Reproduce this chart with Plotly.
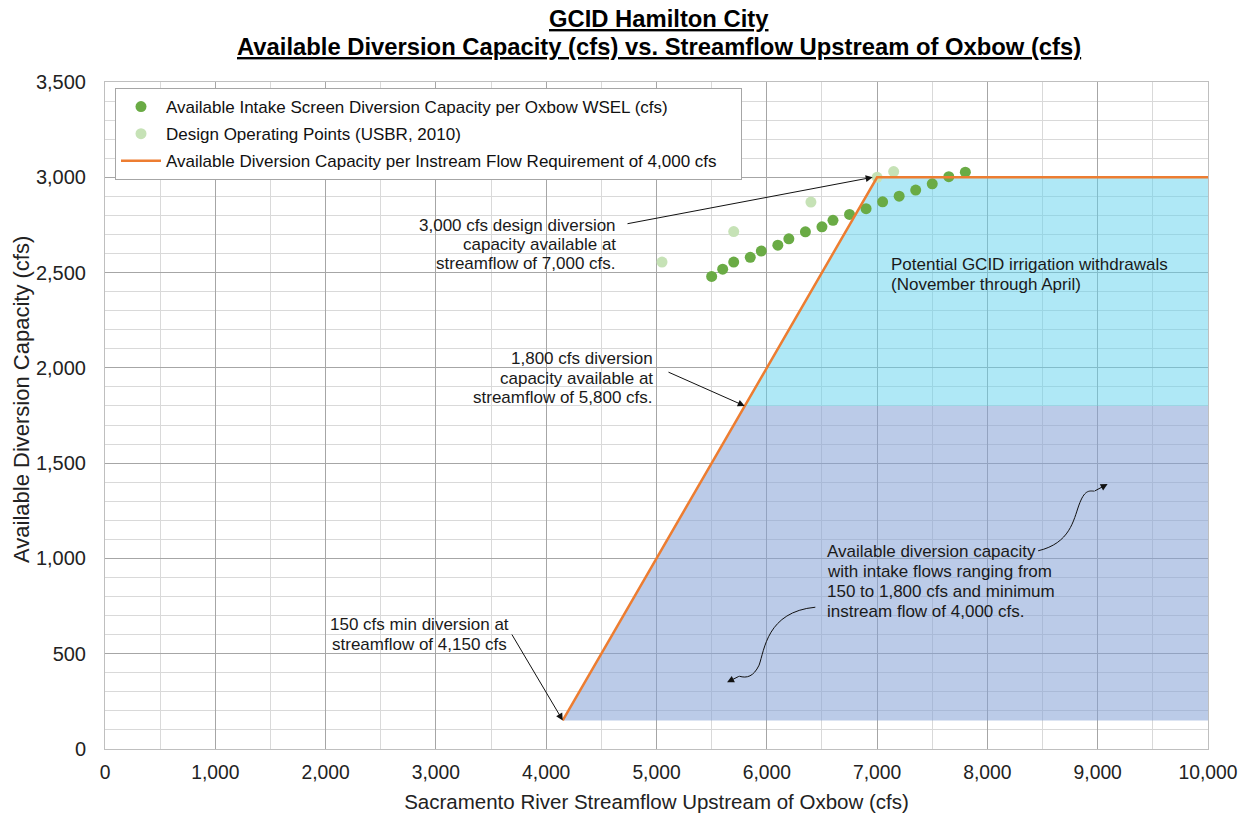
import plotly.graph_objects as go

# ---- data ----
oxbow_flow = [5500, 5600, 5700, 5850, 5950, 6100, 6200, 6350, 6500, 6600,
              6750, 6900, 7050, 7200, 7350, 7500, 7650, 7800]
oxbow_capacity = [2480, 2518, 2555, 2580, 2613, 2644, 2677, 2714, 2740, 2774,
                  2805, 2835, 2871, 2901, 2933, 2966, 3003, 3027]

design_flow = [5050, 5700, 6400, 7000, 7150]
design_capacity = [2555, 2715, 2870, 3000, 3030]

req_flow = [4150, 7000, 10000]
req_capacity = [150, 3000, 3000]

min_intake = 150
max_intake_low = 1800
instream_req = 4000
x_max = 10000
y_max = 3500

x_ticks = [0, 1000, 2000, 3000, 4000, 5000, 6000, 7000, 8000, 9000, 10000]
y_ticks = [0, 500, 1000, 1500, 2000, 2500, 3000, 3500]

FONT = "Liberation Sans, Arial, sans-serif"

# plot-area geometry (pixels) used only to place text labels
L, R, T, B = 105, 1208, 82, 749
W, H = 1250, 818


def px_x(p):
    return (p - L) * x_max / (R - L)


def px_y(p):
    return (B - p) * y_max / (B - T)


fig = go.Figure()

# lower (purple) region: 150 .. 1800 cfs
x_at_1800 = instream_req + max_intake_low
poly1_x = [req_flow[0], x_at_1800, x_max, x_max, req_flow[0]]
poly1_y = [min_intake, max_intake_low, max_intake_low, min_intake, min_intake]
fig.add_trace(go.Scatter(x=poly1_x, y=poly1_y, fill="toself", mode="none",
                         fillcolor="rgba(132,160,214,0.55)", showlegend=False,
                         hoverinfo="skip"))
# upper (cyan) region: 1800 .. 3000 cfs
poly2_x = [x_at_1800, req_flow[1], req_flow[2], x_max, x_at_1800]
poly2_y = [max_intake_low, req_capacity[1], req_capacity[2], max_intake_low, max_intake_low]
fig.add_trace(go.Scatter(x=poly2_x, y=poly2_y, fill="toself", mode="none",
                         fillcolor="rgba(95,210,238,0.5)", showlegend=False,
                         hoverinfo="skip"))

NB = "\u00a0"
fig.add_trace(go.Scatter(
    x=oxbow_flow, y=oxbow_capacity, mode="markers", legendgroup="a",
    name="Available Intake Screen Diversion Capacity per Oxbow WSEL (cfs)",
    marker=dict(color="#6AAB45", size=11)))
fig.add_trace(go.Scatter(
    x=design_flow, y=design_capacity, mode="markers", legendgroup="b",
    name="Design Operating Points (USBR, 2010)",
    marker=dict(color="#C6E2B6", size=11)))
fig.add_trace(go.Scatter(
    x=req_flow, y=req_capacity, mode="lines", legendgroup="c",
    name="Available Diversion Capacity per Instream Flow Requirement of 4,000 cfs" + NB * 4,
    line=dict(color="#ED7D31", width=2.5)))

ann_font = dict(family=FONT, size=17, color="#1a1a1a")
annotations = []


def add_lines(lines, xp, yps, anchor):
    for txt, yp in zip(lines, yps):
        annotations.append(dict(x=px_x(xp), y=px_y(yp), xref="x", yref="y",
                                showarrow=False, xanchor=anchor, yanchor="middle",
                                text=txt, font=ann_font))


add_lines(["3,000 cfs design diversion", "capacity available at",
           "streamflow of 7,000 cfs."], 618, [225, 244, 263.5], "right")
add_lines(["1,800 cfs diversion", "capacity available at",
           "streamflow of 5,800 cfs."], 655, [358.5, 378, 397.5], "right")
add_lines(["150 cfs min diversion at", "streamflow of 4,150 cfs"],
          419, [624, 644], "center")
add_lines(["Potential GCID irrigation withdrawals", "(November through April)"],
          889, [264, 284], "left")
add_lines(["Available diversion capacity", "with intake flows ranging from",
           "150 to 1,800 cfs and minimum", "instream flow of 4,000 cfs."],
          825, [551, 571, 591, 611], "left")

# title (two lines)
title_font = dict(family=FONT, size=23.8, color="#000000")
annotations.append(dict(x=(658.5 - L) / (R - L), y=(B - 19) / (B - T),
                        xref="paper", yref="paper", showarrow=False,
                        xanchor="center", yanchor="middle",
                        text="<b><u>GCID Hamilton City</u></b>", font=title_font))
annotations.append(dict(x=(658.5 - L) / (R - L), y=(B - 47) / (B - T),
                        xref="paper", yref="paper", showarrow=False,
                        xanchor="center", yanchor="middle",
                        text="<b><u>Available Diversion Capacity (cfs) vs. Streamflow Upstream of Oxbow (cfs)</u></b>",
                        font=title_font))

# y-axis title
annotations.append(dict(x=(21 - L) / (R - L), y=(B - 400) / (B - T),
                        xref="paper", yref="paper", showarrow=False,
                        xanchor="center", yanchor="middle", textangle=-90,
                        text="Available Diversion Capacity (cfs)",
                        font=dict(family=FONT, size=22, color="#222222")))

# straight arrows (text-less)
arrow_specs = [
    ((626, 224), (6960, 3000)),
    ((667, 371.5), (5800, 1800)),
    ((511, 633), (4150, 150)),
]
for (tpx, tpy), (hx, hy) in arrow_specs:
    annotations.append(dict(x=hx, y=hy, ax=px_x(tpx), ay=px_y(tpy), xref="x", yref="y",
                            axref="x", ayref="y", text="", showarrow=True,
                            arrowhead=2, arrowsize=1.4, arrowwidth=1,
                            arrowcolor="#111111", standoff=0))

# curved arrows: heads via short annotations
annotations.append(dict(x=9090, y=1390, ax=8960, ay=1350, xref="x", yref="y",
                        axref="x", ayref="y", text="", showarrow=True,
                        arrowhead=2, arrowsize=1.4, arrowwidth=1,
                        arrowcolor="#111111", standoff=0))
annotations.append(dict(x=5640, y=350, ax=5760, ay=385, xref="x", yref="y",
                        axref="x", ayref="y", text="", showarrow=True,
                        arrowhead=2, arrowsize=1.4, arrowwidth=1,
                        arrowcolor="#111111", standoff=0))

shapes = [
    dict(type="path", xref="x", yref="y",
         path="M 8460,1040 C 8750,1080 8780,1200 8830,1280 C 8880,1360 8920,1355 8970,1353",
         line=dict(color="#111111", width=1)),
    dict(type="path", xref="x", yref="y",
         path="M 6440,744 C 6000,720 5980,520 5930,440 C 5880,380 5820,370 5750,382",
         line=dict(color="#111111", width=1)),
]

fig.update_layout(
    width=W, height=H,
    paper_bgcolor="white", plot_bgcolor="white",
    margin=dict(l=L, r=W - R, t=T, b=H - B, autoexpand=False),
    font=dict(family=FONT, color="#222222"),
    legend=dict(x=(115 - L) / (R - L), y=(B - 88) / (B - T), xanchor="left", yanchor="top",
                bgcolor="white", bordercolor="#A6A6A6", borderwidth=1,
                font=dict(family=FONT, size=17, color="#111111"),
                itemwidth=40, tracegroupgap=2),
    annotations=annotations,
    shapes=shapes,
    showlegend=True,
)

fig.update_xaxes(
    range=[0, x_max], tickvals=x_ticks, ticktext=[f"{v:,}" for v in x_ticks],
    showgrid=True, gridcolor="#A6A6A6", gridwidth=1,
    minor=dict(dtick=500, showgrid=True, gridcolor="#D9D9D9", gridwidth=1),
    zeroline=False, showline=True, linecolor="#BFBFBF", mirror=True,
    ticks="", ticklabelstandoff=6, tickfont=dict(family=FONT, size=19.3, color="#222222"),
    title=dict(text="Sacramento River Streamflow Upstream of Oxbow (cfs)",
               font=dict(family=FONT, size=20.5, color="#222222"), standoff=12),
)
fig.update_yaxes(
    range=[0, y_max], tickvals=y_ticks, ticktext=[f"{v:,}" for v in y_ticks],
    showgrid=True, gridcolor="#A6A6A6", gridwidth=1,
    minor=dict(dtick=100, showgrid=True, gridcolor="#D9D9D9", gridwidth=1),
    zeroline=False, showline=True, linecolor="#BFBFBF", mirror=True,
    ticks="", ticklabelstandoff=14, tickfont=dict(family=FONT, size=20, color="#222222"),
)

fig.write_html("out.html", config={"displayModeBar": False},
               post_script="document.body.style.margin='0';")
